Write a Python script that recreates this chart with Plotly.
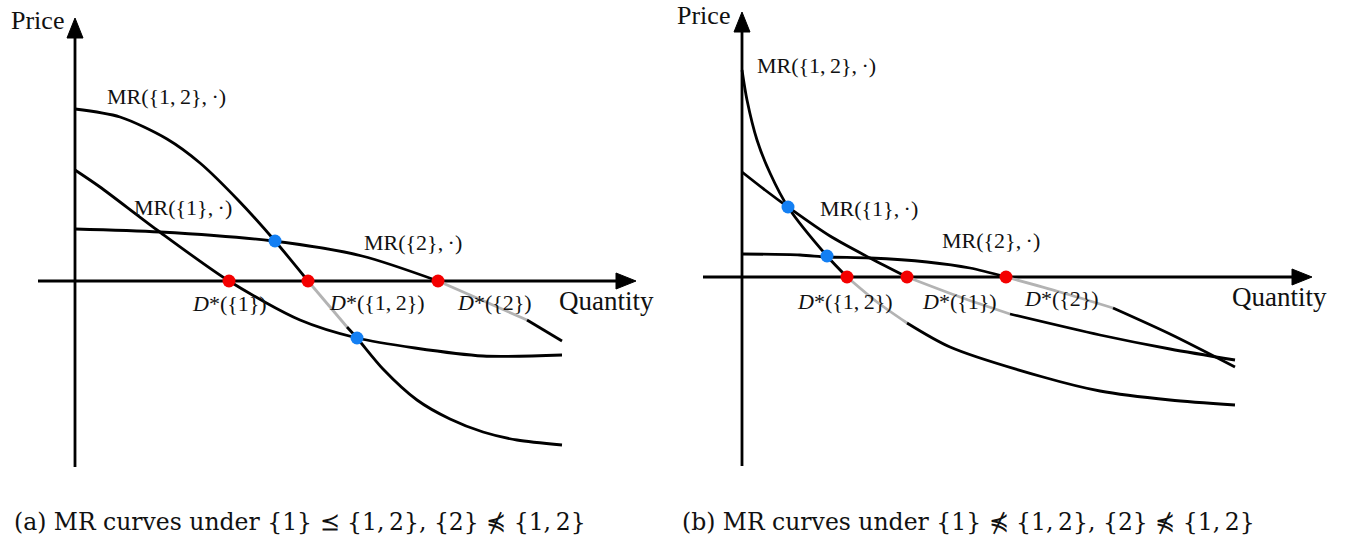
import plotly.graph_objects as go

# MR curves: quantity / price in arbitrary units,
# origin where the two axes cross

# panel (a)
a_mr12_q = [0, 4.5, 9.2, 12.5, 16.3, 20.0, 23.3, 27.2, 28.2, 30.8, 34.2, 37.5, 40.8, 44.2, 48.7]
a_mr12_p = [17.2, 16.4, 14.2, 11.8, 8.1, 4.0, 0.0, -4.6, -5.7, -8.8, -11.9, -13.8, -15.1, -15.9, -16.4]
a_mr1_q = [0, 2.5, 8.2, 15.4, 22.5, 28.2, 34.0, 40.8, 48.7]
a_mr1_p = [11.1, 9.4, 5.1, 0.0, -3.9, -5.7, -6.7, -7.5, -7.4]
a_mr2_q = [0, 8.5, 19.8, 28.7, 36.3, 45.2, 48.7]
a_mr2_p = [5.2, 4.9, 4.0, 2.5, 0.0, -3.9, -6.0]
# stretches drawn in grey (start / end quantity)
a_mr12_gray = (23.3, 27.2)
a_mr2_gray = (36.3, 45.2)
a_red_q = [15.4, 23.3, 36.3]
a_blue_q = [20.0, 28.2]
a_blue_p = [4.0, -5.7]
a_qaxis = (-3.7, 56.1)
a_paxis = (-18.6, 26.3)

# panel (b)
b_mr12_q = [0, 0.5, 1.5, 2.8, 4.6, 8.5, 10.5, 13.5, 16.5, 20.8, 30.1, 35.8, 42.8, 49.3]
b_mr12_p = [20.7, 17.7, 13.7, 10.4, 7.0, 2.1, 0.0, -2.5, -4.6, -7.0, -10.0, -11.4, -12.3, -12.8]
b_mr1_q = [0, 2.3, 4.6, 8.8, 12.8, 16.5, 21.8, 26.8, 35.8, 42.8, 49.3]
b_mr1_p = [10.5, 8.7, 7.0, 4.1, 1.9, 0.0, -2.0, -3.7, -5.8, -7.2, -8.3]
b_mr2_q = [0, 5.8, 8.5, 12.8, 18.5, 22.8, 26.4, 31.8, 37.1, 42.8, 49.3]
b_mr2_p = [2.3, 2.2, 2.0, 1.9, 1.5, 0.9, 0.0, -1.5, -3.1, -5.7, -9.0]
b_mr12_gray = (10.5, 16.5)
b_mr1_gray = (16.5, 26.8)
b_mr2_gray = (26.4, 37.1)
b_red_q = [10.5, 16.5, 26.4]
b_blue_q = [4.6, 8.5]
b_blue_p = [7.0, 2.1]
b_qaxis = (-3.9, 57.0)
b_paxis = (-18.9, 26.5)

captions = ["(a) MR curves under {1} \u2AAF {1,\u20092}, {2} \u22E0 {1,\u20092}",
            "(b) MR curves under {1} \u22E0 {1,\u20092}, {2} \u22E0 {1,\u20092}"]

BLACK = "#000000"
GREY = "#b3b3b3"
RED = "#f40000"
BLUE = "#137ff3"
LBL = "Liberation Serif"


def mr(s):
    return "MR(" + s + ",\u2009\u00b7)"


def dstar(s):
    return "<i>D</i>*(" + s + ")"


fig = go.Figure()


def curve(q, p, gray, xa, ya):
    segs = [(q, p, BLACK)]
    if gray:
        i0, i1 = q.index(gray[0]), q.index(gray[1])
        segs = [(q[:i0 + 1], p[:i0 + 1], BLACK),
                (q[i0:i1 + 1], p[i0:i1 + 1], GREY),
                (q[i1:], p[i1:], BLACK)]
    for sq, sp, c in segs:
        fig.add_trace(go.Scatter(x=sq, y=sp, mode="lines", xaxis=xa, yaxis=ya,
                                 line=dict(color=c, width=2.8, shape="spline", smoothing=0.8),
                                 hoverinfo="skip"))


def axes(qaxis, paxis, xa, ya):
    hl, hw = 2.0, 0.8  # arrow head length / half width
    fig.add_trace(go.Scatter(x=[qaxis[0], qaxis[1] - hl], y=[0, 0], mode="lines",
                             xaxis=xa, yaxis=ya, line=dict(color=BLACK, width=2.8)))
    fig.add_trace(go.Scatter(x=[0, 0], y=[paxis[0], paxis[1] - hl], mode="lines",
                             xaxis=xa, yaxis=ya, line=dict(color=BLACK, width=2.8)))
    t = qaxis[1]
    fig.add_trace(go.Scatter(x=[t - hl, t, t - hl, t - hl], y=[hw, 0, -hw, hw],
                             mode="lines", fill="toself", fillcolor=BLACK,
                             xaxis=xa, yaxis=ya, line=dict(color=BLACK, width=1)))
    t = paxis[1]
    fig.add_trace(go.Scatter(x=[-hw, 0, hw, -hw], y=[t - hl, t, t - hl, t - hl],
                             mode="lines", fill="toself", fillcolor=BLACK,
                             xaxis=xa, yaxis=ya, line=dict(color=BLACK, width=1)))


def dots(red_q, blue_q, blue_p, xa, ya):
    fig.add_trace(go.Scatter(x=red_q, y=[0] * len(red_q), mode="markers", xaxis=xa, yaxis=ya,
                             marker=dict(color=RED, size=13)))
    fig.add_trace(go.Scatter(x=blue_q, y=blue_p, mode="markers", xaxis=xa, yaxis=ya,
                             marker=dict(color=BLUE, size=13)))


# panel (a)
axes(a_qaxis, a_paxis, "x", "y")
curve(a_mr12_q, a_mr12_p, a_mr12_gray, "x", "y")
curve(a_mr1_q, a_mr1_p, None, "x", "y")
curve(a_mr2_q, a_mr2_p, a_mr2_gray, "x", "y")
dots(a_red_q, a_blue_q, a_blue_p, "x", "y")

# panel (b)
axes(b_qaxis, b_paxis, "x2", "y2")
curve(b_mr12_q, b_mr12_p, b_mr12_gray, "x2", "y2")
curve(b_mr1_q, b_mr1_p, b_mr1_gray, "x2", "y2")
curve(b_mr2_q, b_mr2_p, b_mr2_gray, "x2", "y2")
dots(b_red_q, b_blue_q, b_blue_p, "x2", "y2")

labels = [
    # x, y, text, size, anchor, axis
    (-0.9, 26.1, "Price", 26, "right", "1"),
    (48.2, -2.0, "Quantity", 27, "left", "1"),
    (3.0, 18.5, mr("{1,\u20092}"), 22, "left", "1"),
    (5.7, 7.4, mr("{1}"), 22, "left", "1"),
    (28.7, 3.9, mr("{2}"), 22, "left", "1"),
    (11.5, -2.2, dstar("{1}"), 22, "left", "1"),
    (25.2, -2.1, dstar("{1,\u20092}"), 22, "left", "1"),
    (38.0, -2.1, dstar("{2}"), 22, "left", "1"),
    (-1.0, 26.2, "Price", 26, "right", "2"),
    (48.8, -2.0, "Quantity", 27, "left", "2"),
    (1.3, 21.2, mr("{1,\u20092}"), 22, "left", "2"),
    (7.6, 6.9, mr("{1}"), 22, "left", "2"),
    (19.8, 3.7, mr("{2}"), 22, "left", "2"),
    (5.3, -2.4, dstar("{1,\u20092}"), 22, "left", "2"),
    (17.8, -2.4, dstar("{1}"), 22, "left", "2"),
    (28.0, -2.1, dstar("{2}"), 22, "left", "2"),
]
for x, y, txt, sz, anc, ax in labels:
    fig.add_annotation(x=x, y=y, text=txt, showarrow=False, xanchor=anc, yanchor="middle",
                       xref="x" if ax == "1" else "x2", yref="y" if ax == "1" else "y2",
                       font=dict(family=LBL, size=sz, color="#111111"))

for i, cap in enumerate(captions):
    fig.add_annotation(x=[0.009, 0.5045][i], y=0.040, xref="paper", yref="paper",
                       text=cap, showarrow=False, xanchor="left", yanchor="middle",
                       font=dict(family="DejaVu Serif", size=23.5, color="#111111"))

hidden = dict(visible=False, showgrid=False, zeroline=False)
fig.update_layout(
    width=1348, height=544, autosize=False,
    margin=dict(l=0, r=0, t=0, b=0),
    paper_bgcolor="white", plot_bgcolor="white",
    showlegend=False,
    xaxis=dict(domain=[0, 0.5], range=[-7.5, 59.9], **hidden),
    yaxis=dict(domain=[0, 1], range=[-26.3, 28.1], **hidden),
    xaxis2=dict(domain=[0.5, 1], range=[-6.8, 60.6], **hidden),
    yaxis2=dict(domain=[0, 1], range=[-26.7, 27.7], anchor="x2", **hidden),
)

# page body margin would push the 1348x544 figure off the window
fig.write_html("out.html", config={"displayModeBar": False},
               post_script="document.body.style.margin='0px';")
